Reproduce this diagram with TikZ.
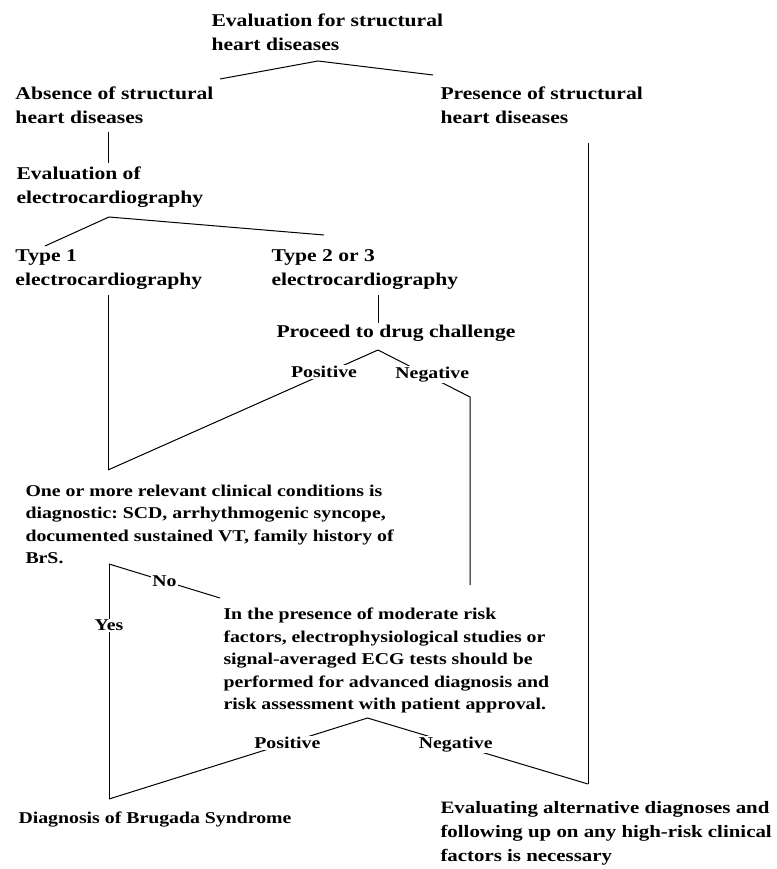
\documentclass[tikz,border=0pt]{standalone}
\usepackage{fontspec}
\setmainfont{Liberation Serif}[FakeStretch=1.2]
\usepackage{tikz}
\frenchspacing

\begin{document}
\begin{tikzpicture}[x=1pt,y=-1pt,line width=1pt,
		every node/.style={inner sep=0pt,font=\bfseries},
		big/.style={anchor=north west,align=left,font=\bfseries\fontsize{18}{24}\selectfont},
		small/.style={anchor=north west,align=left,font=\bfseries\fontsize{16.5}{22.5}\selectfont},
		lab/.style={fill=white,inner sep=1pt,font=\bfseries\fontsize{16.5}{20}\selectfont}]
		
		\useasboundingbox (0,0) rectangle (776,869);
		
		\node[big] (node-eval) at (211,13.8) {Evaluation for structural\\heart diseases};
		\node[big] (node-absent) at (15,86.8) {Absence of structural\\heart diseases};
		\node[big] (node-present) at (440,86.8) {Presence of structural\\heart diseases};
		\node[big] (node-ecg) at (16,166.8) {Evaluation of\\electrocardiography};
		\node[big] (node-type1) at (15,248.8) {Type 1\\electrocardiography};
		\node[big] (node-type23) at (271,248.8) {Type 2 or 3\\electrocardiography};
		\node[big] (node-drug) at (276,324.8) {Proceed to drug challenge};
		\node[small] (node-clin) at (25,484.3) {One or more relevant clinical conditions is\\diagnostic: SCD, arrhythmogenic syncope,\\documented sustained VT, family history of\\BrS.};
		\node[small] (node-risk) at (223,607.6) {In the presence of moderate risk\\factors, electrophysiological studies or\\signal-averaged ECG tests should be\\performed for advanced diagnosis and\\risk assessment with patient approval.};
		\node[small] (node-brs) at (18,811.6) {Diagnosis of Brugada Syndrome};
		\node[big,font=\bfseries\fontsize{17.4}{24}\selectfont] (node-alt) at (440,801) {Evaluating alternative diagnoses and\\following up on any high-risk clinical\\factors is necessary};
		
		\coordinate (fork-eval) at (318,61);
		\coordinate (end-absent) at (220,79);
		\coordinate (end-present) at (433,75);
		\coordinate (top-ecg) at (108,132);
		\coordinate (end-ecg) at (108,163);
		\coordinate (fork-ecg) at (109,217);
		\coordinate (end-type1) at (45,246);
		\coordinate (end-type23) at (324,235);
		\coordinate (top-type1) at (108,295);
		\coordinate (join-pos) at (108,470);
		\coordinate (top-type23) at (378,295);
		\coordinate (end-drug) at (378,323);
		\coordinate (fork-drug) at (378,350);
		\coordinate (bend-neg) at (470,397);
		\coordinate (end-neg) at (470,585);
		\coordinate (fork-clin) at (109,564);
		\coordinate (end-no) at (220,598);
		\coordinate (join-brs) at (109,799);
		\coordinate (fork-risk) at (367.5,718);
		\coordinate (top-present) at (588,143);
		\coordinate (join-alt) at (588,784);
		
		\draw (end-absent) -- (fork-eval) -- (end-present);
		\draw (top-ecg) -- (end-ecg);
		\draw (end-type1) -- (fork-ecg) -- (end-type23);
		\draw (top-type1) -- (join-pos);
		\draw (top-type23) -- (end-drug);
		\draw (fork-drug) -- node[lab,pos=0.2,yshift=2pt] (node-pos1) {Positive} (join-pos);
		\draw (fork-drug) -- node[lab,pos=0.59,yshift=3pt] (node-neg1) {Negative} (bend-neg) -- (end-neg);
		\draw (fork-clin) -- node[lab] (node-no) {No} (end-no);
		\draw (fork-clin) -- node[lab,pos=0.26] (node-yes) {Yes} (join-brs);
		\draw (join-brs) -- node[lab,pos=0.69] (node-pos2) {Positive} (fork-risk)
		-- node[lab,pos=0.4] (node-neg2) {Negative} (join-alt);
		\draw (top-present) -- (join-alt);
		\end{tikzpicture}
\end{document}
